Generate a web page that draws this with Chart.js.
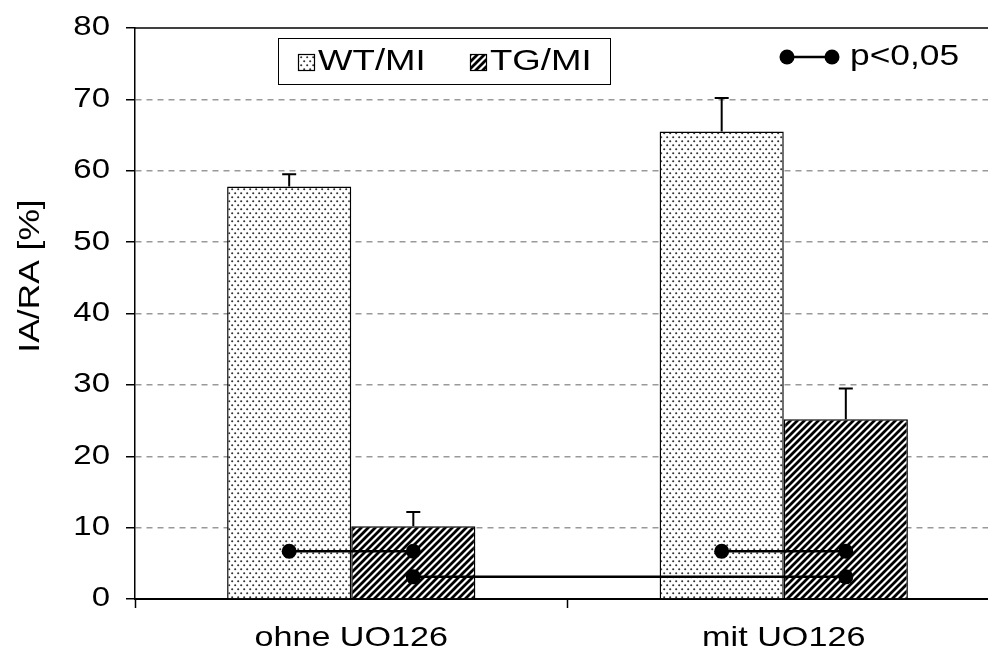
<!DOCTYPE html>
<html>
<head>
<meta charset="utf-8">
<script src="https://cdn.jsdelivr.net/npm/chart.js@4"></script>
<style>
  html, body { margin: 0; padding: 0; background: #fff; overflow: hidden; }
  #wrap { width: 1000px; height: 654px; }
</style>
</head>
<body>
<div id="wrap"><canvas id="chart" width="1000" height="654"></canvas></div>
<script>
// data
const categories = ['ohne UO126', 'mit UO126'];
const seriesNames = ['WT/MI', 'TG/MI'];
const wtValues = [57.8, 65.5];
const tgValues = [10.2, 25.2];
const wtErr = [1.7, 4.7];
const tgErr = [2.0, 4.3];
const yTicks = [0, 10, 20, 30, 40, 50, 60, 70, 80];
// significance brackets: [dataset, category] -> [dataset, category] at level
const sigLinks = [
    { from: [0, 0], to: [1, 0], level: 6.7 },
    { from: [1, 0], to: [1, 1], level: 3.1 },
    { from: [0, 1], to: [1, 1], level: 6.7 }
];
const sigLabel = 'p<0,05';
const yTitle = 'IA/RA [%]';

const FONT = "'Liberation Sans', Arial, Helvetica, sans-serif";
// the original typeface is noticeably wider than Arial
const STRETCH = 1.22;

const makeDots = () => {
    const c = document.createElement('canvas');
    c.width = 6; c.height = 8;
    const g = c.getContext('2d');
    g.fillStyle = '#fff';
    g.fillRect(0, 0, 6, 8);
    g.fillStyle = '#333';
    g.beginPath(); g.arc(1.2, 1.2, 1.05, 0, Math.PI * 2); g.fill();
    g.beginPath(); g.arc(4.2, 5.2, 1.05, 0, Math.PI * 2); g.fill();
    return g.createPattern(c, 'repeat');
};

const makeStripes = () => {
    const s = 7;
    const c = document.createElement('canvas');
    c.width = s; c.height = s;
    const g = c.getContext('2d');
    g.fillStyle = '#fff';
    g.fillRect(0, 0, s, s);
    g.strokeStyle = '#000';
    g.lineWidth = 2.8;
    g.beginPath();
    g.moveTo(-s, s); g.lineTo(s, -s);
    g.moveTo(0, 2 * s); g.lineTo(2 * s, 0);
    g.moveTo(0, s); g.lineTo(s, 0);
    g.stroke();
    return g.createPattern(c, 'repeat');
};

const dots = makeDots();
const stripes = makeStripes();
const fills = [dots, stripes];
const allValues = [wtValues, tgValues];
const allErr = [wtErr, tgErr];

// widen every label drawn on the chart around its own anchor
const wideText = {
    id: 'wideText',
    beforeDraw(chart) {
        const ctx = chart.ctx;
        const orig = CanvasRenderingContext2D.prototype.fillText;
        ctx.fillText = function (text, x, y) {
            this.save();
            this.translate(x, y);
            this.scale(STRETCH, 1);
            orig.call(this, text, 0, 0);
            this.restore();
        };
    },
    afterDraw(chart) {
        delete chart.ctx.fillText;
    }
};

const overlay = {
    id: 'overlay',
    afterDatasetsDraw(chart) {
        const ctx = chart.ctx;
        const y = chart.scales.y;
        const area = chart.chartArea;
        ctx.save();

        // top frame line
        ctx.strokeStyle = '#000';
        ctx.lineWidth = 1.5;
        ctx.beginPath();
        ctx.moveTo(area.left, y.getPixelForValue(80));
        ctx.lineTo(area.right, y.getPixelForValue(80));
        ctx.stroke();

        // upper error bars
        allErr.forEach((err, d) => {
            chart.getDatasetMeta(d).data.forEach((bar, i) => {
                const yTop = y.getPixelForValue(allValues[d][i] + err[i]);
                ctx.lineWidth = 2;
                ctx.beginPath();
                ctx.moveTo(bar.x, bar.y);
                ctx.lineTo(bar.x, yTop);
                ctx.moveTo(bar.x - 7, yTop);
                ctx.lineTo(bar.x + 7, yTop);
                ctx.stroke();
            });
        });

        // significance links
        ctx.fillStyle = '#000';
        ctx.lineWidth = 2.5;
        sigLinks.forEach(link => {
            const a = chart.getDatasetMeta(link.from[0]).data[link.from[1]];
            const b = chart.getDatasetMeta(link.to[0]).data[link.to[1]];
            const py = y.getPixelForValue(link.level);
            ctx.beginPath();
            ctx.moveTo(a.x, py);
            ctx.lineTo(b.x, py);
            ctx.stroke();
            [a.x, b.x].forEach(px => {
                ctx.beginPath();
                ctx.arc(px, py, 7.5, 0, Math.PI * 2);
                ctx.fill();
            });
        });

        // legend box
        ctx.fillStyle = '#fff';
        ctx.fillRect(278, 38, 332, 46);
        ctx.strokeStyle = '#000';
        ctx.lineWidth = 1;
        ctx.strokeRect(278.5, 38.5, 332, 46);
        const items = [{ x: 298 }, { x: 470 }];
        ctx.font = '30px ' + FONT;
        ctx.textBaseline = 'middle';
        ctx.textAlign = 'left';
        items.forEach((it, k) => {
            ctx.fillStyle = fills[k];
            ctx.fillRect(it.x, 54, 16, 16);
            ctx.strokeStyle = '#000';
            ctx.lineWidth = 1.2;
            ctx.strokeRect(it.x + 0.5, 54.5, 16, 16);
            ctx.fillStyle = '#000';
            ctx.fillText(seriesNames[k], it.x + 20, 62);
        });

        // significance legend
        ctx.lineWidth = 2.5;
        ctx.beginPath();
        ctx.moveTo(787, 57);
        ctx.lineTo(832, 57);
        ctx.stroke();
        [787, 832].forEach(px => {
            ctx.beginPath();
            ctx.arc(px, 57, 7.5, 0, Math.PI * 2);
            ctx.fill();
        });
        ctx.font = '29px ' + FONT;
        ctx.fillText(sigLabel, 850, 57);

        // y axis title
        ctx.translate(31, 276);
        ctx.rotate(-Math.PI / 2);
        ctx.textAlign = 'center';
        ctx.font = '29px ' + FONT;
        ctx.fillText(yTitle, 0, 0);

        ctx.restore();
    }
};

new Chart(document.getElementById('chart'), {
    type: 'bar',
    data: {
        labels: categories,
        datasets: allValues.map((vals, d) => ({
            label: seriesNames[d],
            data: vals,
            backgroundColor: fills[d],
            borderColor: '#000',
            borderWidth: 1.5,
            categoryPercentage: 0.574,
            barPercentage: 1.0
        }))
    },
    options: {
        responsive: false,
        animation: false,
        devicePixelRatio: 1,
        layout: { padding: { top: 28, left: 0, right: 0, bottom: 0 } },
        plugins: {
            legend: { display: false },
            tooltip: { enabled: false }
        },
        scales: {
            x: {
                afterFit: (s) => { s.height = 55; s.paddingLeft = 0; s.paddingRight = 0; },
                grid: {
                    offset: true,
                    drawOnChartArea: false,
                    drawTicks: true,
                    tickLength: 9,
                    tickColor: '#000',
                    tickWidth: 1.5
                },
                border: { color: '#000', width: 2 },
                ticks: {
                    color: '#000',
                    padding: 13,
                    maxRotation: 0,
                    autoSkip: false,
                    font: { family: FONT, size: 28 }
                }
            },
            y: {
                min: 0,
                max: 80,
                afterFit: (s) => { s.width = 135; s.paddingTop = 0; s.paddingBottom = 0; },
                afterBuildTicks: (s) => { s.ticks = yTicks.map(v => ({ value: v })); },
                grid: {
                    color: (c) => (c.tick && (c.tick.value === 0 || c.tick.value === 80)) ? 'rgba(0,0,0,0)' : '#999',
                    lineWidth: 1.5,
                    tickLength: 9,
                    tickColor: '#000',
                    tickWidth: 1.5,
                    tickBorderDash: []
                },
                border: { color: '#000', width: 1.5, dash: [6, 5] },
                ticks: {
                    color: '#000',
                    padding: 16,
                    font: { family: FONT, size: 27 }
                }
            }
        }
    },
    plugins: [wideText, overlay]
});
</script>
</body>
</html>
